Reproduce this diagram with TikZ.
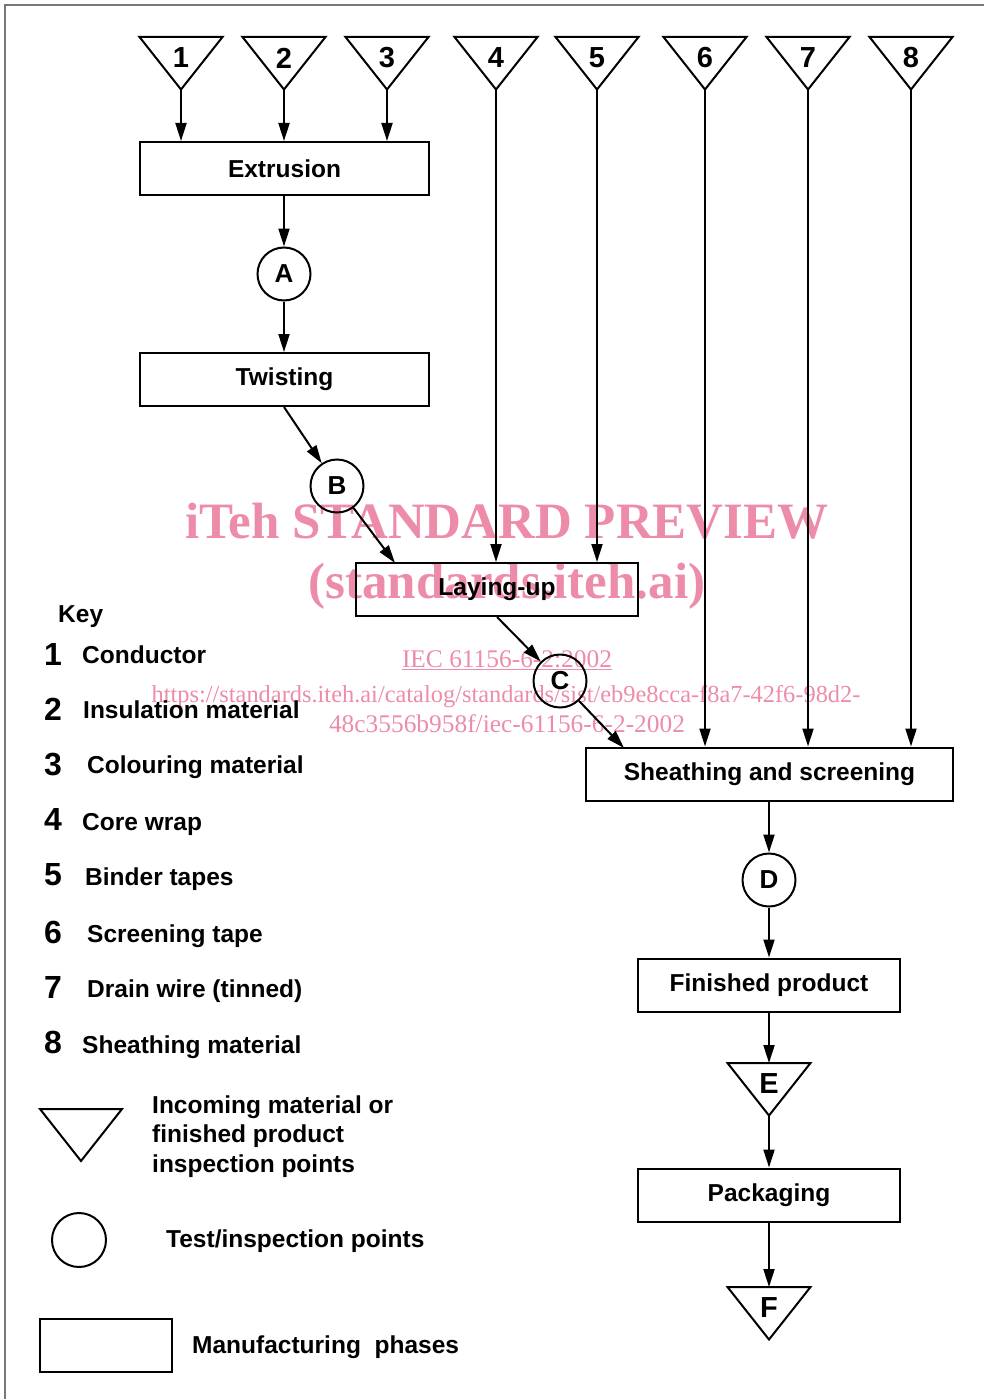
\documentclass[tikz,border=0pt]{standalone}
\usepackage{fontspec}
\setmainfont{Liberation Sans}
\newfontfamily\wmfont{Liberation Serif}
\usetikzlibrary{arrows.meta,calc}
\definecolor{wmpink}{RGB}{237,140,168}
\definecolor{framegray}{RGB}{120,120,120}
\tikzset{
	phase/.style={draw, line width=2pt, minimum height=53pt, inner sep=0pt, font=\fontsize{24.5}{28}\selectfont\bfseries},
	tpoint/.style={draw, circle, line width=2pt, minimum size=53pt, inner sep=0pt, font=\fontsize{26}{28}\selectfont\bfseries},
	trilabel/.style={inner sep=0pt, font=\fontsize{29}{30}\selectfont\bfseries},
	flow/.style={line width=2pt, -{Triangle[length=18pt,width=11pt]}},
	keynum/.style={anchor=base west, inner sep=0pt, font=\fontsize{32}{34}\selectfont\bfseries},
	keytext/.style={anchor=base west, inner sep=0pt, font=\fontsize{24.5}{29.5}\selectfont\bfseries, align=left},
	wmark/.style={anchor=base, inner sep=0pt, text=wmpink}
}
% inspection triangle: name, x, top y, label
\newcommand\intri[4]{%
	\draw[line width=2pt, line join=miter] (#2-41.5,#3) -- (#2+41.5,#3) -- (#2,#3+52.5) -- cycle;
	\node[trilabel] (#1) at (#2,#3+21) {#4};
	\coordinate (#1top) at (#2,#3);
	\coordinate (#1tip) at (#2,#3+52.5);
}

\begin{document}
\begin{tikzpicture}[x=1pt, y=-1pt]
			%%%%% START %%%%%
			\useasboundingbox (0,0) rectangle (984,1399);
			\draw[line width=1.5pt, color=framegray] (5,1399) -- (5,5) -- (984,5);
			
			% watermark
			\node[wmark, font=\wmfont\bfseries\fontsize{51}{51}\selectfont] (wm1) at (507,538) {iTeh STANDARD PREVIEW};
			\node[wmark, font=\wmfont\bfseries\fontsize{51}{51}\selectfont] (wm2) at (507,598) {(standards.iteh.ai)};
			\node[wmark, font=\wmfont\fontsize{25.4}{26}\selectfont] (wm3) at (507,667) {\underline{IEC 61156-6-2:2002}};
			\node[wmark, font=\wmfont\fontsize{24.4}{26}\selectfont] (wm4) at (506,702) {https://standards.iteh.ai/catalog/standards/sist/eb9e8cca-f8a7-42f6-98d2-};
			\node[wmark, font=\wmfont\fontsize{25.4}{26}\selectfont] (wm5) at (507,732) {48c3556b958f/iec-61156-6-2-2002};
			
			% incoming material
			\foreach \n/\x in {1/181, 2/284, 3/387, 4/496, 5/597, 6/705, 7/808, 8/911}
				{\intri{t\n}{\x}{37}{\n}}
			
			% manufacturing phases and test points
			\node[phase, minimum width=289pt] (ext) at (284.5,168.5) {Extrusion};
			\node[tpoint] (A) at (284,274) {A};
			\node[phase, minimum width=289pt] (twist) at (284.5,379.5) {Twisting};
			\node[tpoint] (B) at (337,486) {B};
			\node[phase, minimum width=282pt] (lay) at (497,589.5) {Laying-up};
			\node[tpoint] (C) at (560,681) {C};
			\node[phase, minimum width=367pt] (sheath) at (769.5,774) {Sheathing and screening};
			\node[tpoint] (D) at (769,880) {D};
			\node[phase, minimum width=262pt] (fin) at (769,985) {Finished product};
			\intri{E}{769}{1063}{E}
			\node[phase, minimum width=262pt] (pack) at (769,1195) {Packaging};
			\intri{F}{769}{1287}{F}
			
			\coordinate (layin) at (395,563);
			\coordinate (sheathin) at (624,748);
			
			% connectors
			\foreach \n in {1,2,3}
				\draw[flow] (t\n tip) -- (t\n tip |- ext.north);
			\foreach \n in {4,5}
				\draw[flow] (t\n tip) -- (t\n tip |- lay.north);
			\foreach \n in {6,7,8}
				\draw[flow] (t\n tip) -- (t\n tip |- sheath.north);
			
			\draw[flow] (ext.south -| A) -- (A);
			\draw[flow] (A) -- (A |- twist.north);
			\draw[flow] (twist.south -| A) -- (B);
			\draw[flow] (B) -- (layin);
			\draw[flow] (lay.south) -- (C);
			\draw[flow] (C) -- (sheathin);
			\draw[flow] (sheath.south -| D) -- (D);
			\draw[flow] (D) -- (fin.north);
			\draw[flow] (fin.south) -- (Etop);
			\draw[flow] (Etip) -- (pack.north);
			\draw[flow] (pack.south) -- (Ftop);
			
			% key
			\node[keytext] (key) at (58,622) {Key};
			\foreach \n/\yn/\xl/\yl/\txt in {1/665/82/663/Conductor, 2/720/83/718/Insulation material, 3/775/87/773/Colouring material, 4/830/82/830/Core wrap, 5/885/85/885/Binder tapes, 6/943/87/942/Screening tape, 7/998/87/997/Drain wire (tinned), 8/1053/82/1053/Sheathing material}
			{
				\node[keynum] (kn\n) at (44,\yn) {\n};
				\node[keytext] (kt\n) at (\xl,\yl) {\txt};
			}
			
			\draw[line width=2pt, line join=miter] (40,1109) -- (122,1109) -- (81,1161) -- cycle;
			\node[keytext] (legtri) at (152,1172) {Incoming material or\\finished product\\inspection points};
			\node[draw, circle, line width=2pt, minimum size=54pt, inner sep=0pt] (legcirc) at (79,1240) {};
			\node[keytext] (legtp) at (166,1247) {Test/inspection points};
			\node[draw, line width=2pt, minimum width=132pt, minimum height=53pt, inner sep=0pt] (legbox) at (106,1345.5) {};
			\node[keytext] (legmp) at (192,1353) {Manufacturing\ \ phases};
			
			%%%%% END %%%%%
\end{tikzpicture}
\end{document}
